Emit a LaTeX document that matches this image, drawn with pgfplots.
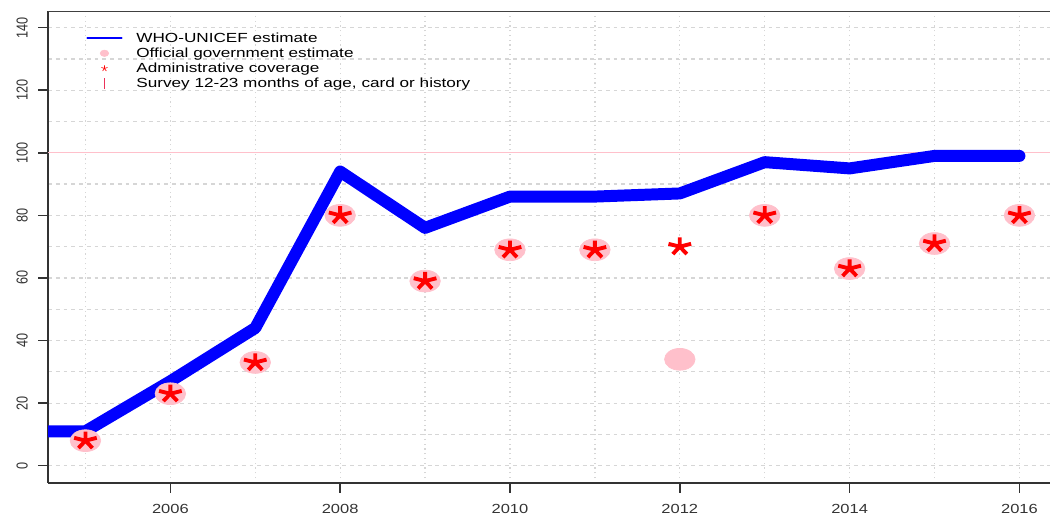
\documentclass[border=0pt]{standalone}
\usepackage{fontspec}
\setmainfont{Liberation Sans}
\newfontfamily\xtickfont[FakeStretch=1.25]{Liberation Sans}
\newfontfamily\ytickfont[FakeStretch=0.8]{Liberation Sans}
\newfontfamily\legfont[FakeStretch=1.3]{Liberation Sans}
\usepackage{pgfplots}
\pgfplotsset{compat=1.18}
\definecolor{govpink}{RGB}{255,192,203}
\definecolor{surveyred}{RGB}{235,50,90}
\definecolor{pureblue}{RGB}{0,0,255}
\begin{document}
\fontsize{10}{12}\selectfont
\begin{tikzpicture}
\begin{axis}[
  scale only axis,
  width=20cm, height=9.42cm,
  xmin=2004.56, xmax=2016.36,
  ymin=-5.5, ymax=145.3,
  xtick={2006,2008,...,2016},
  ytick={0,20,...,140},
  minor xtick={2005,2007,...,2015},
  minor ytick={10,30,...,130},
  grid=both,
  major grid style={black!16, line width=0.7pt},
  minor grid style={black!16, line width=0.7pt},
  every axis x grid/.append style={dotted},
  every axis y grid/.append style={dash pattern=on 2.2pt off 2.2pt},
  axis lines*=left,
  axis line style={black!80, line width=1pt},
  tick align=outside,
  major tick length=5.5pt,
  minor tick length=0pt,
  tick style={black!80, line width=0.9pt},
  xticklabel style={/pgf/number format/1000 sep={}, text=black!80,
    font={\fontsize{7.5}{8}\xtickfont}},
  xticklabel shift=3pt,
  yticklabel style={rotate=90, anchor=south, text=black!80,
    font={\fontsize{9}{10}\ytickfont}},
  yticklabel shift=2.5pt,
  /pgf/number format/assume math mode=true,
  legend style={draw=none, fill=none, at={(0.036,0.963)}, anchor=north west,
    font={\fontsize{7.5}{8}\legfont}, row sep=0pt, inner sep=1pt,
    nodes={inner sep=0.5pt, text height=6pt, text depth=1.6pt}},
  legend cell align=left,
]
% reference line at 100
\addplot[govpink, line width=0.6pt, forget plot] coordinates {(2004,100) (2017,100)};

% WHO-UNICEF estimate
\addplot[pureblue, line width=6.8pt, line cap=round, line join=round,
  legend image code/.code={\draw[pureblue, line width=1.3pt] (0cm,0cm) -- (0.68cm,0cm); \path (0.84cm,0cm);}]
  coordinates {
  (2004,11) (2005,11) (2006,27) (2007,44) (2008,94) (2009,76) (2010,86)
  (2011,86) (2012,87) (2013,97) (2014,95) (2015,99) (2016,99)
  };
\addlegendentry{WHO-UNICEF estimate}

% official government estimate
\addplot[only marks, mark=*, mark size=6.2pt, color=govpink,
  mark options={xscale=1.4, draw=none, fill=govpink},
  legend image code/.code={\fill[govpink] (0.34cm,0cm) ellipse (2.4pt and 1.8pt); \path (0cm,0cm) (0.84cm,0cm);}]
  coordinates {
  (2005,8) (2006,23) (2007,33) (2008,80) (2009,59) (2010,69)
  (2011,69) (2012,34) (2013,80) (2014,63) (2015,71) (2016,80)
  };
\addlegendentry{Official government estimate}

% administrative coverage
\addplot[only marks, mark=star, mark size=5.2pt, color=red,
  mark options={xscale=1.3, line width=2.2pt},
  legend image code/.code={\draw[red, line width=0.35pt] (0.34cm,0cm) -- ++(90:1.8pt)
      (0.34cm,0cm) -- ++(18:1.8pt) (0.34cm,0cm) -- ++(162:1.8pt)
      (0.34cm,0cm) -- ++(-54:1.8pt) (0.34cm,0cm) -- ++(-126:1.8pt);
      \path (0cm,0cm) (0.84cm,0cm);}]
  coordinates {
  (2005,8) (2006,23) (2007,33) (2008,80) (2009,59) (2010,69)
  (2011,69) (2012,70) (2013,80) (2014,63) (2015,71) (2016,80)
  };
\addlegendentry{Administrative coverage}

\addlegendimage{legend image code/.code={\draw[surveyred, line width=0.8pt] (0.34cm,-0.11cm) -- (0.34cm,0.11cm); \path (0cm,0cm) (0.84cm,0cm);}}
\addlegendentry{Survey 12-23 months of age, card or history}

\draw[black!75, line width=1pt] (rel axis cs:0,1) -- (rel axis cs:1,1);
\end{axis}
\pgfresetboundingbox
\path[use as bounding box] ([shift={(-0.96cm,-0.62cm)}]current axis.south west)
  rectangle ([shift={(0cm,0.22cm)}]current axis.north east);
\end{tikzpicture}
\end{document}
